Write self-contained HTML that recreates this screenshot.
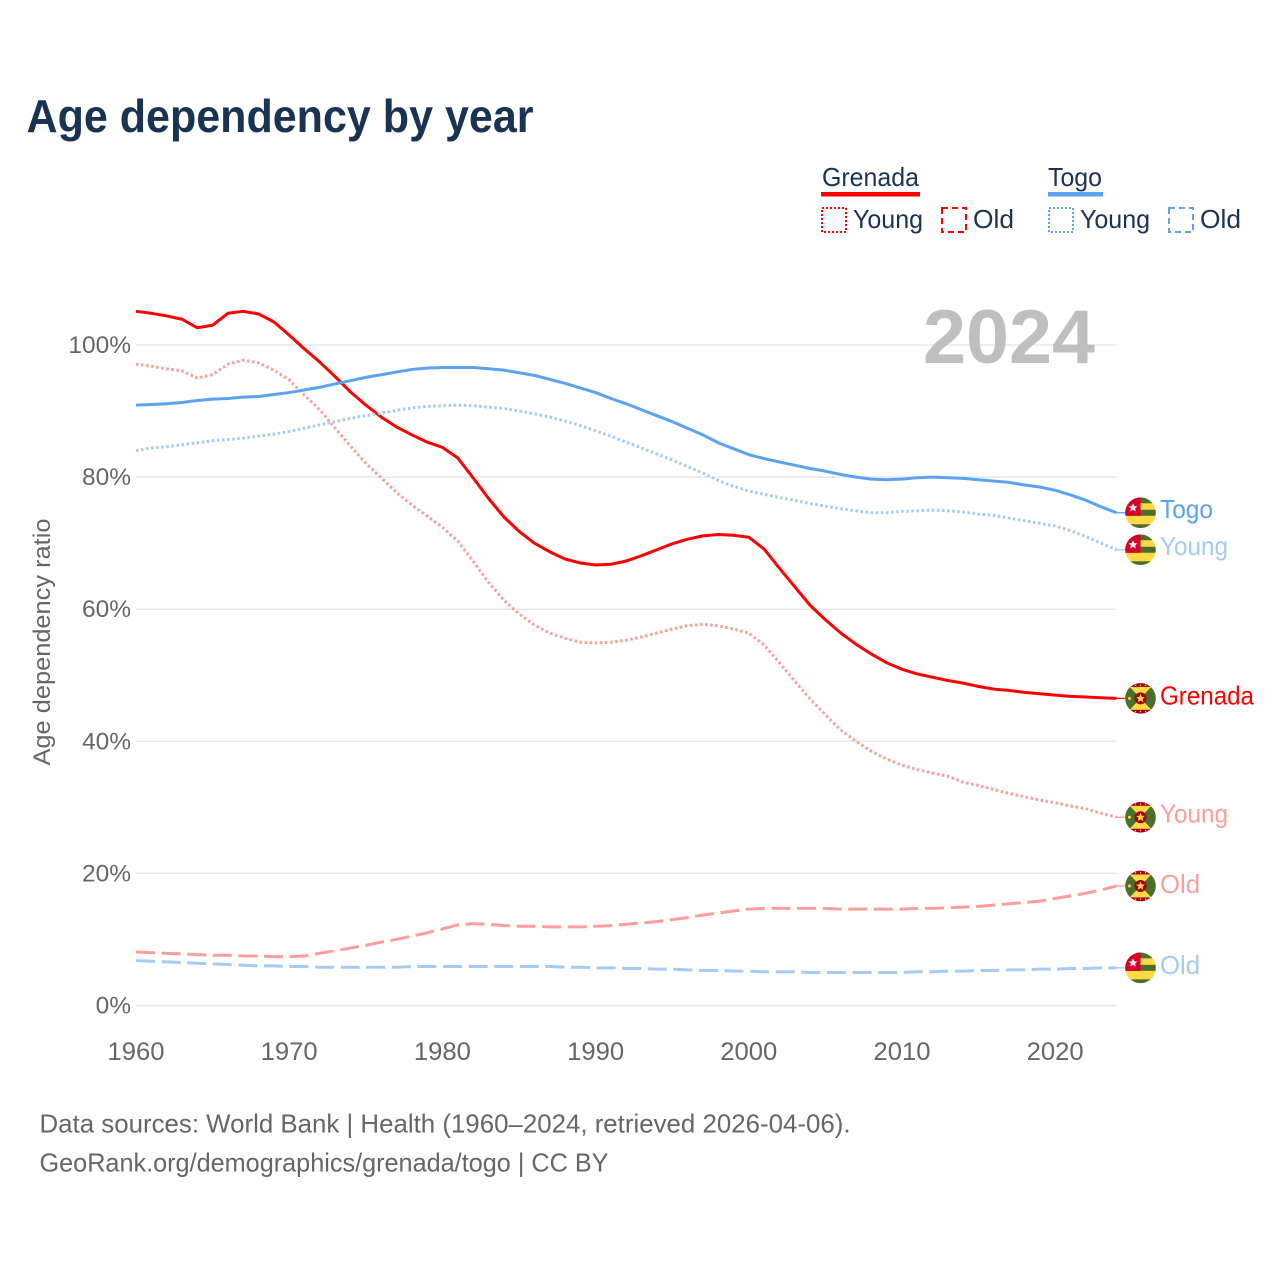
<!DOCTYPE html>
<html lang="en">
<head>
<meta charset="utf-8">
<title>Age dependency by year</title>
<style>
html,body{margin:0;padding:0;background:#fff;}
svg{display:block;}
text{font-family:"Liberation Sans",sans-serif;}
</style>
</head>
<body>
<svg id="chart" xmlns="http://www.w3.org/2000/svg" width="1280" height="1280" viewBox="0 0 1280 1280">
<defs>
<clipPath id="flag-clip"><circle cx="0" cy="0" r="15.3"/></clipPath>
<g id="flag-togo" clip-path="url(#flag-clip)">
<rect x="-16" y="-16" width="32" height="32" fill="#ffda44"/>
<rect x="-16" y="-16" width="32" height="6.5" fill="#496e2d"/>
<rect x="-16" y="-3" width="32" height="6" fill="#496e2d"/>
<rect x="-16" y="11.5" width="32" height="5" fill="#496e2d"/>
<rect x="-16" y="-16" width="16" height="19" fill="#d80027"/>
<polygon points="-7.5,-9.5 -6.2,-6.6 -3,-6.4 -5.4,-4.4 -4.7,-1.3 -7.5,-3 -10.3,-1.3 -9.6,-4.4 -12,-6.4 -8.8,-6.6" fill="#f0f0f0"/>
</g>
<g id="flag-grenada" clip-path="url(#flag-clip)">
<rect x="-16" y="-16" width="32" height="32" fill="#ffda44"/>
<polygon points="-16,-17 0,0 -16,17" fill="#496e2d"/>
<polygon points="16,-17 0,0 16,17" fill="#496e2d"/>
<rect x="-16" y="-16" width="32" height="4.5" fill="#a2001d"/>
<rect x="-16" y="11.5" width="32" height="4.5" fill="#a2001d"/>
<circle cx="-5" cy="-13.2" r="0.7" fill="#ffda44"/><circle cx="0" cy="-13.2" r="0.7" fill="#ffda44"/><circle cx="5" cy="-13.2" r="0.7" fill="#ffda44"/>
<circle cx="-5" cy="13.2" r="0.7" fill="#ffda44"/><circle cx="0" cy="13.2" r="0.7" fill="#ffda44"/><circle cx="5" cy="13.2" r="0.7" fill="#ffda44"/>
<circle cx="0" cy="0" r="6" fill="#a2001d"/>
<polygon points="0,-4.5 1.3,-1.4 4.4,-1.4 2,0.7 2.8,3.8 0,2.1 -2.8,3.8 -2,0.7 -4.4,-1.4 -1.3,-1.4" fill="#ffda44"/>
<circle cx="-11" cy="0" r="1.5" fill="#ffda44"/>
</g>
</defs>

<rect width="1280" height="1280" fill="#fff"/>
<text x="26.5" y="132" font-size="46" font-weight="700" fill="#1a3353" textLength="507" lengthAdjust="spacingAndGlyphs">Age dependency by year</text>

<g>
<text x="822" y="186" font-size="26" fill="#1a3353" textLength="97" lengthAdjust="spacingAndGlyphs">Grenada</text>
<rect x="821" y="192" width="99" height="4.5" fill="#ff0000"/>
<rect x="822" y="208" width="24" height="24" fill="none" stroke="#ff0000" stroke-width="2" stroke-dasharray="2 2"/>
<text x="853" y="228" font-size="26" fill="#1a3353" textLength="70" lengthAdjust="spacingAndGlyphs">Young</text>
<rect x="942" y="208" width="24" height="24" fill="none" stroke="#ff0000" stroke-width="2" stroke-dasharray="6 4"/>
<text x="973" y="228" font-size="26" fill="#1a3353" textLength="41" lengthAdjust="spacingAndGlyphs">Old</text>
<text x="1048" y="186" font-size="26" fill="#1a3353" textLength="54" lengthAdjust="spacingAndGlyphs">Togo</text>
<rect x="1048" y="192" width="55" height="4.5" fill="#5ba3ee"/>
<rect x="1049" y="208" width="24" height="24" fill="none" stroke="#5ba3ee" stroke-width="2" stroke-dasharray="2 2"/>
<text x="1080" y="228" font-size="26" fill="#1a3353" textLength="70" lengthAdjust="spacingAndGlyphs">Young</text>
<rect x="1169" y="208" width="24" height="24" fill="none" stroke="#5ba3ee" stroke-width="2" stroke-dasharray="6 4"/>
<text x="1200" y="228" font-size="26" fill="#1a3353" textLength="41" lengthAdjust="spacingAndGlyphs">Old</text>
</g>

<g id="grid"></g>
<text x="923" y="363" font-size="76" font-weight="700" fill="#bfbfbf" textLength="172" lengthAdjust="spacingAndGlyphs">2024</text>
<g id="x-axis"></g>
<g id="y-axis"></g>
<text transform="translate(50,642) rotate(-90)" text-anchor="middle" font-size="24" fill="#666666" textLength="247" lengthAdjust="spacingAndGlyphs">Age dependency ratio</text>
<g id="series"></g>
<g id="end-labels"></g>

<text x="39.5" y="1132.5" font-size="26" fill="#666666" textLength="811" lengthAdjust="spacingAndGlyphs">Data sources: World Bank | Health (1960–2024, retrieved 2026-04-06).</text>
<text x="39.5" y="1171.5" font-size="26" fill="#666666" textLength="569" lengthAdjust="spacingAndGlyphs">GeoRank.org/demographics/grenada/togo | CC BY</text>
</svg>

<script>
const startYear = 1960;
const xTickLabels = [1960, 1970, 1980, 1990, 2000, 2010, 2020];
const yTickLabels = [0, 20, 40, 60, 80, 100];
const grenadaTotal = [105.1,104.8,104.4,103.9,102.6,103.0,104.8,105.1,104.7,103.5,101.5,99.4,97.4,95.2,92.9,90.9,89.1,87.6,86.4,85.3,84.5,82.9,79.9,76.8,74.0,71.8,70.0,68.7,67.6,67.0,66.7,66.8,67.3,68.1,69.0,69.9,70.6,71.1,71.3,71.2,70.9,69.1,66.2,63.4,60.6,58.4,56.4,54.7,53.2,51.9,50.9,50.2,49.7,49.2,48.8,48.3,47.9,47.7,47.4,47.2,47.0,46.8,46.7,46.6,46.5];
const grenadaYoung = [97.1,96.8,96.4,96.1,95.0,95.5,97.1,97.7,97.3,96.2,94.7,92.4,90.2,87.4,84.7,82.1,79.9,77.7,75.8,74.1,72.4,70.3,67.3,64.1,61.4,59.3,57.6,56.4,55.6,55.0,54.9,55.0,55.3,55.8,56.4,57.0,57.5,57.7,57.5,57.0,56.4,54.6,51.9,49.1,46.4,44.0,41.7,40.0,38.5,37.3,36.4,35.7,35.2,34.7,33.8,33.3,32.7,32.1,31.6,31.1,30.7,30.2,29.8,29.1,28.5];
const grenadaOld = [8.1,8.0,7.9,7.8,7.7,7.6,7.6,7.5,7.5,7.4,7.4,7.5,7.9,8.3,8.7,9.1,9.6,10.0,10.5,11.0,11.6,12.2,12.4,12.3,12.1,12.0,12.0,11.9,11.9,11.9,12.0,12.1,12.3,12.5,12.7,13.0,13.3,13.7,14.0,14.3,14.6,14.7,14.7,14.7,14.7,14.7,14.6,14.6,14.6,14.6,14.6,14.7,14.7,14.8,14.9,15.0,15.2,15.4,15.6,15.8,16.2,16.6,17.0,17.5,18.1];
const togoTotal = [90.9,91.0,91.1,91.3,91.6,91.8,91.9,92.1,92.2,92.5,92.8,93.2,93.6,94.1,94.6,95.1,95.5,95.9,96.3,96.5,96.6,96.6,96.6,96.4,96.2,95.8,95.4,94.8,94.2,93.5,92.8,91.9,91.1,90.2,89.3,88.4,87.4,86.4,85.2,84.3,83.4,82.8,82.3,81.8,81.3,80.9,80.4,80.0,79.7,79.6,79.7,79.9,80.0,79.9,79.8,79.6,79.4,79.2,78.8,78.5,78.0,77.3,76.5,75.5,74.6];
const togoYoung = [84.0,84.4,84.6,84.9,85.2,85.5,85.7,85.9,86.2,86.5,86.9,87.4,87.9,88.4,88.9,89.3,89.7,90.1,90.5,90.7,90.8,90.9,90.8,90.6,90.4,90.0,89.6,89.1,88.5,87.8,87.0,86.2,85.3,84.4,83.5,82.6,81.6,80.6,79.5,78.6,77.9,77.4,76.9,76.5,76.0,75.6,75.2,74.9,74.6,74.6,74.8,74.9,75.0,74.9,74.7,74.4,74.2,73.8,73.4,73.0,72.6,71.9,71.0,70.0,69.0];
const togoOld = [6.8,6.7,6.6,6.5,6.4,6.3,6.2,6.1,6.0,6.0,5.9,5.9,5.8,5.8,5.8,5.8,5.8,5.8,5.9,5.9,5.9,5.9,5.9,5.9,5.9,5.9,5.9,5.9,5.8,5.8,5.7,5.7,5.6,5.6,5.5,5.5,5.4,5.3,5.3,5.2,5.2,5.1,5.1,5.1,5.0,5.0,5.0,5.0,5.0,5.0,5.0,5.1,5.1,5.2,5.2,5.3,5.3,5.4,5.4,5.5,5.5,5.6,5.6,5.7,5.7];

const NS = 'http://www.w3.org/2000/svg';
const xOf = function (year) { return 136 + (year - 1960) * 15.32; };
const yOf = function (pct) { return 1005.5 - pct * 6.605; };
const make = function (parent, tag, attrs) {
  const el = document.createElementNS(NS, tag);
  for (const k in attrs) el.setAttribute(k, attrs[k]);
  parent.appendChild(el);
  return el;
};

const grid = document.getElementById('grid');
const yAxis = document.getElementById('y-axis');
yTickLabels.forEach(function (t) {
  const line = make(grid, 'line', {x1: 136, x2: 1116, y1: yOf(t), y2: yOf(t), stroke: '#e8e8e8', 'stroke-width': 1.5});
  
  
  const label = make(yAxis, 'text', {x: 131, y: yOf(t) + 8, 'text-anchor': 'end', 'font-size': 24.5, fill: '#666666'});
  
  
  label.textContent = t + '%';
});

const xAxis = document.getElementById('x-axis');
xTickLabels.forEach(function (t) {
  const label = make(xAxis, 'text', {x: xOf(t), y: 1060, 'text-anchor': 'middle', 'font-size': 25, fill: '#666666', textLength: 57, lengthAdjust: 'spacingAndGlyphs'});
  
  
  label.textContent = t;
});

const seriesList = [
  {key: 'grenada-total', values: grenadaTotal, color: '#ff0000', width: 3, dash: '', flag: 'flag-grenada', label: 'Grenada', w: 94, dy: 6},
  {key: 'grenada-young', values: grenadaYoung, color: '#ff9d9d', width: 3, dash: '2.5 2.6', flag: 'flag-grenada', label: 'Young', w: 68, dy: 5},
  {key: 'grenada-old', values: grenadaOld, color: '#ff9d9d', width: 3, dash: '19 6.6', flag: 'flag-grenada', label: 'Old', w: 40, dy: 7},
  {key: 'togo-total', values: togoTotal, color: '#5ba3ee', width: 3, dash: '', flag: 'flag-togo', label: 'Togo', w: 53, dy: 5},
  {key: 'togo-young', values: togoYoung, color: '#a3ccf5', width: 3, dash: '2.5 2.6', flag: 'flag-togo', label: 'Young', w: 68, dy: 5},
  {key: 'togo-old', values: togoOld, color: '#a3ccf5', width: 3, dash: '19 6.6', flag: 'flag-togo', label: 'Old', w: 40, dy: 6}
];

const seriesGroup = document.getElementById('series');
const endGroup = document.getElementById('end-labels');
seriesList.forEach(function (s) {
  const pts = s.values.map(function (v, i) { return xOf(startYear + i).toFixed(2) + ',' + yOf(v).toFixed(2); }).join(' ');
  const attrs = {points: pts, fill: 'none', stroke: s.color, 'stroke-width': s.width, 'stroke-linejoin': 'round'};
  if (s.dash) attrs['stroke-dasharray'] = s.dash;
  const line = make(seriesGroup, 'polyline', attrs);
  
  

  const last = s.values[s.values.length - 1];
  const lastX = xOf(startYear + s.values.length - 1);
  const lastY = yOf(last);
  const stub = make(endGroup, 'line', {x1: lastX, x2: lastX + 12, y1: lastY, y2: lastY, stroke: s.color, 'stroke-width': 1.3});
  
  
  const flag = make(endGroup, 'use', {href: '#' + s.flag, transform: 'translate(1140.5,' + lastY.toFixed(2) + ')'});
  
  
  const text = make(endGroup, 'text', {x: 1160, y: lastY + s.dy, 'font-size': 26, fill: s.color, textLength: s.w, lengthAdjust: 'spacingAndGlyphs'});
  
  
  text.textContent = s.label;
});
</script>
</body>
</html>
